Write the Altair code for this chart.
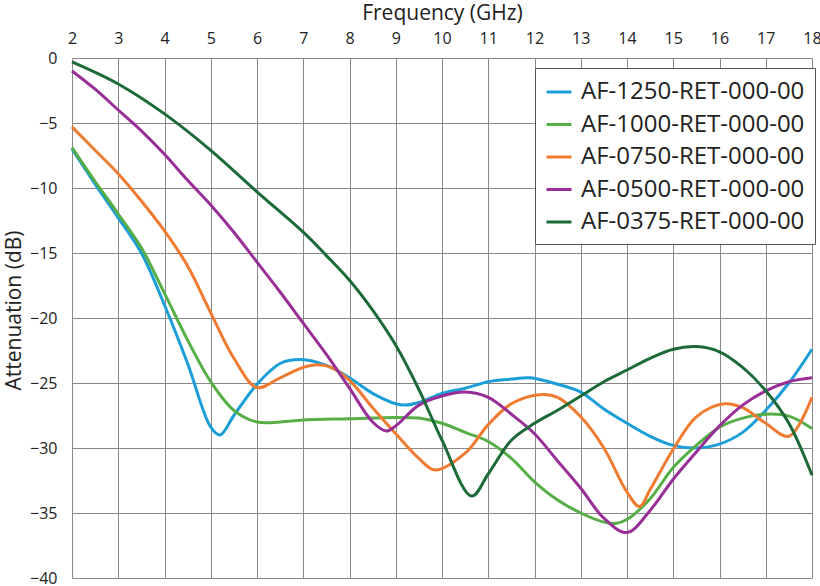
import altair as alt
import pandas as pd

FONT = "Open Sans"

series_names = ["AF-1250-RET-000-00", "AF-1000-RET-000-00", "AF-0750-RET-000-00",
                "AF-0500-RET-000-00", "AF-0375-RET-000-00"]
series_colors = ["#1b9ed8", "#56ae47", "#ef7b31", "#982f96", "#1c6a37"]

f_1250 = [2, 2.5, 3, 3.5, 4, 4.5, 5, 5.2, 5.5, 6, 6.5, 6.95, 7.5, 8, 8.5, 9, 9.2, 9.5, 10, 10.5,
          11, 11.5, 11.9, 12.5, 13, 13.5, 14, 14.5, 15, 15.5, 16, 16.5, 17, 17.5, 18]
a_1250 = [-7.0, -9.7, -12.3, -15.0, -19.0, -23.5, -28.4, -29.0, -27.5, -25.1, -23.5, -23.2, -23.65,
          -24.6, -25.8, -26.6, -26.7, -26.5, -25.8, -25.4, -24.9, -24.7, -24.6, -25.1, -25.7, -27.0,
          -28.1, -29.1, -29.8, -30.0, -29.7, -28.8, -27.1, -25.0, -22.4]

f_1000 = [2, 2.5, 3, 3.5, 4, 4.5, 5, 5.5, 6, 6.5, 7, 8, 9, 9.5, 10, 10.5, 11, 11.5, 12, 12.5, 13,
          13.5, 13.75, 14, 14.5, 15, 15.5, 16, 16.5, 17, 17.5, 18]
a_1000 = [-6.9, -9.5, -12.0, -14.6, -18.1, -21.7, -24.9, -27.1, -28.0, -28.0, -27.85, -27.75,
          -27.65, -27.7, -28.1, -28.8, -29.5, -30.8, -32.6, -34.0, -35.0, -35.7, -35.8, -35.5,
          -33.9, -31.5, -29.8, -28.4, -27.7, -27.4, -27.55, -28.5]

f_0750 = [2, 2.5, 3, 3.5, 4, 4.5, 5, 5.5, 6, 6.5, 7, 7.3, 7.6, 8, 8.5, 9, 9.5, 9.85, 10.5, 11,
          11.5, 12.1, 12.5, 13, 13.5, 14, 14.27, 14.5, 15, 15.5, 16.1, 16.5, 17, 17.5, 18]
a_0750 = [-5.3, -7.1, -8.9, -11.0, -13.3, -16.0, -19.6, -23.1, -25.35, -24.6, -23.8, -23.6, -23.8,
          -24.8, -26.9, -28.9, -30.8, -31.7, -30.4, -28.2, -26.6, -25.9, -26.1, -27.6, -30.0,
          -33.4, -34.5, -33.2, -30.1, -27.6, -26.6, -26.9, -28.1, -29.1, -26.1]

f_0500 = [2, 2.5, 3, 3.5, 4, 4.5, 5, 5.5, 6, 6.5, 7, 7.5, 8, 8.5, 8.8, 9, 9.5, 10, 10.5, 11, 11.5,
          12, 12.5, 13, 13.5, 14, 14.5, 15, 15.5, 16, 16.5, 17, 17.5, 18]
a_0500 = [-1.0, -2.4, -4.0, -5.6, -7.4, -9.4, -11.3, -13.4, -15.7, -18.0, -20.4, -22.8, -25.4,
          -28.0, -28.7, -28.3, -26.7, -26.0, -25.7, -26.1, -27.4, -28.9, -31.0, -33.1, -35.4,
          -36.5, -34.8, -32.4, -30.3, -28.3, -26.7, -25.6, -24.9, -24.6]

f_0375 = [2, 3, 4, 5, 6, 7, 7.5, 8, 8.5, 9, 9.5, 10, 10.64, 11, 11.5, 12, 12.5, 13, 13.5, 14, 14.5,
          15, 15.5, 16, 16.5, 17, 17.5, 18]
a_0375 = [-0.3, -2.0, -4.3, -7.1, -10.3, -13.4, -15.2, -17.1, -19.4, -22.1, -25.5, -29.4, -33.7,
          -32.0, -29.4, -28.1, -27.1, -26.0, -24.9, -24.0, -23.1, -22.4, -22.2, -22.6, -23.8, -25.6,
          -28.1, -32.1]

x_ticks = list(range(2, 19))
y_ticks = [0, -5, -10, -15, -20, -25, -30, -35, -40]

rows = []
for name, fs, vals in zip(series_names,
                          [f_1250, f_1000, f_0750, f_0500, f_0375],
                          [a_1250, a_1000, a_0750, a_0500, a_0375]):
    for f, v in zip(fs, vals):
        rows.append({"series": name, "freq": f, "att": v})
df = pd.DataFrame(rows)

chart = alt.Chart(df).mark_line(interpolate="catmull-rom", strokeWidth=3).encode(
    x=alt.X("freq:Q", scale=alt.Scale(domain=[2, 18], nice=False, zero=False),
            axis=alt.Axis(orient="top", values=x_ticks, title="Frequency (GHz)",
                          format="d", labelFlush=False)),
    y=alt.Y("att:Q", scale=alt.Scale(domain=[-40, 0], nice=False),
            axis=alt.Axis(values=y_ticks, title="Attenuation (dB)", format="d",
                          titleX=-48, titleY=252)),
    color=alt.Color("series:N",
                    scale=alt.Scale(domain=series_names, range=series_colors),
                    legend=alt.Legend(title=None, orient="none", legendX=463, legendY=10,
                                      symbolType="stroke", symbolSize=625,
                                      symbolStrokeWidth=3, labelFontSize=24,
                                      labelFont=FONT, labelColor="#222",
                                      labelLimit=400, rowPadding=6.5, labelOffset=8,
                                      padding=10, strokeColor="#555",
                                      fillColor="white")),
    order=alt.Order("freq:Q"),
).properties(
    width=740, height=520,
    autosize=alt.AutoSizeParams(type="none"),
    padding={"left": 72, "top": 58, "right": 8, "bottom": 8},
).configure_view(
    stroke=None
).configure_axis(
    grid=True, gridColor="#888888", gridWidth=1, domain=False, ticks=False,
    labelFont=FONT, labelFontSize=16, labelColor="#222",
    titleFont=FONT, titleFontSize=21, titleColor="#222", titleFontWeight="normal",
).configure_axisX(
    labelPadding=12, titlePadding=7,
).configure_axisY(
    labelPadding=15,
)

chart.save("out.html", embed_options={"renderer": "svg", "actions": False})
